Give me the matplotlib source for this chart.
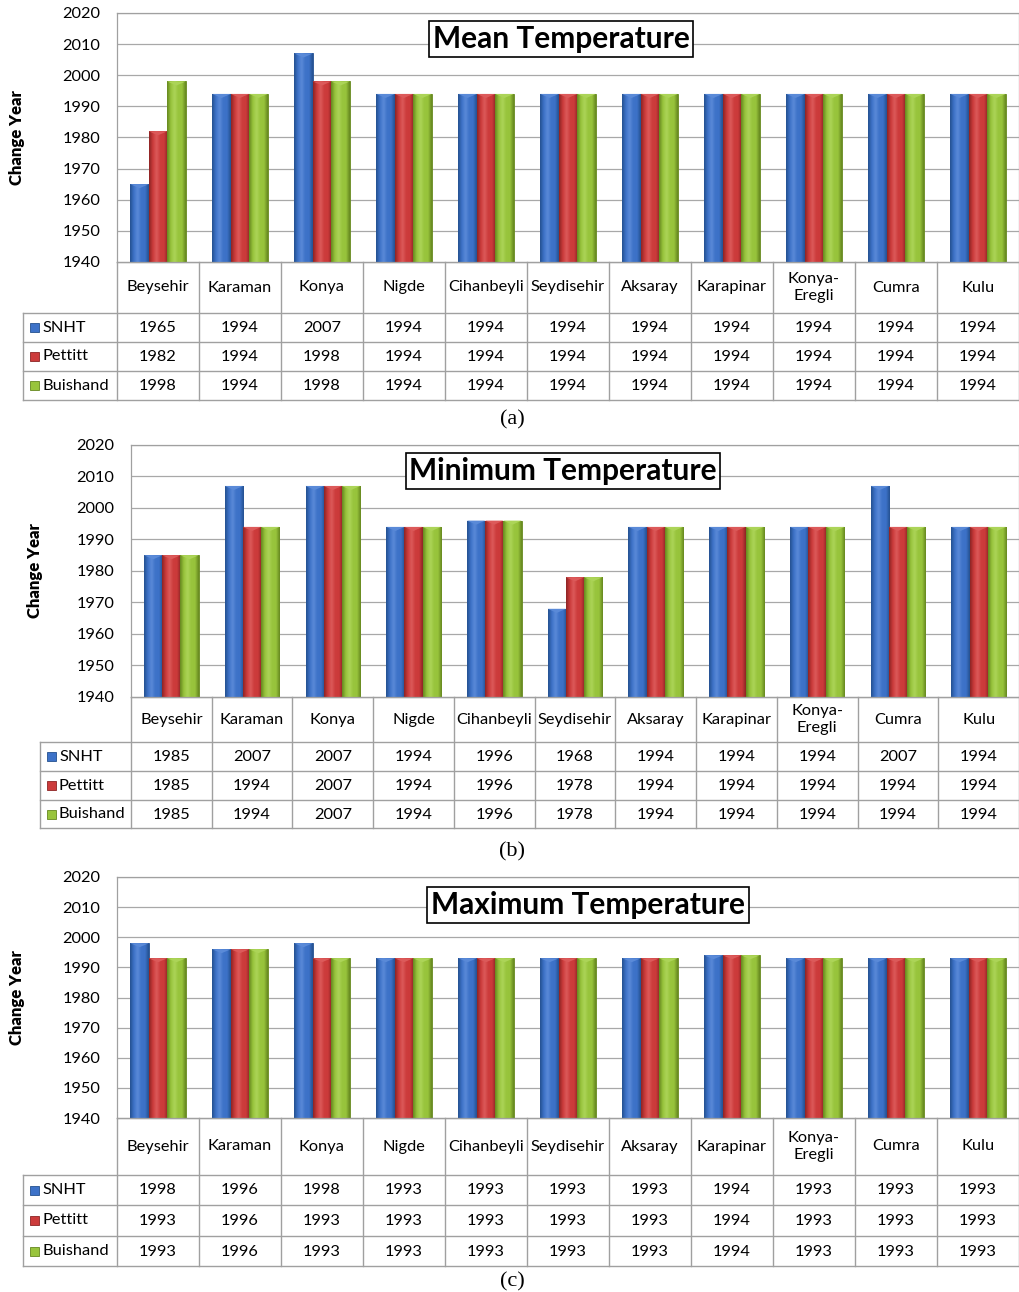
import numpy as np
import matplotlib
matplotlib.use("Agg")
import matplotlib.pyplot as plt
from matplotlib.colors import LinearSegmentedColormap

plt.rcParams['font.family'] = ['Lato', 'DejaVu Sans']

stations = ["Beysehir", "Karaman", "Konya", "Nigde", "Cihanbeyli", "Seydisehir",
            "Aksaray", "Karapinar", "Konya-\nEregli", "Cumra", "Kulu"]
series_names = ["SNHT", "Pettitt", "Buishand"]

mean_snht = [1965, 1994, 2007, 1994, 1994, 1994, 1994, 1994, 1994, 1994, 1994]
mean_pettitt = [1982, 1994, 1998, 1994, 1994, 1994, 1994, 1994, 1994, 1994, 1994]
mean_buishand = [1998, 1994, 1998, 1994, 1994, 1994, 1994, 1994, 1994, 1994, 1994]

min_snht = [1985, 2007, 2007, 1994, 1996, 1968, 1994, 1994, 1994, 2007, 1994]
min_pettitt = [1985, 1994, 2007, 1994, 1996, 1978, 1994, 1994, 1994, 1994, 1994]
min_buishand = [1985, 1994, 2007, 1994, 1996, 1978, 1994, 1994, 1994, 1994, 1994]

max_snht = [1998, 1996, 1998, 1993, 1993, 1993, 1993, 1994, 1993, 1993, 1993]
max_pettitt = [1993, 1996, 1993, 1993, 1993, 1993, 1993, 1994, 1993, 1993, 1993]
max_buishand = [1993, 1996, 1993, 1993, 1993, 1993, 1993, 1994, 1993, 1993, 1993]

yticks = [1940, 1950, 1960, 1970, 1980, 1990, 2000, 2010, 2020]
ymin, ymax = 1940, 2020

colors = ["#3d72c8", "#cc3b3b", "#98c43c"]
dark = ["#24508f", "#8c2424", "#65871f"]
light = ["#5a8ad8", "#dc5a5a", "#acd458"]

W, H = 1020, 1292
fig = plt.figure(figsize=(W / 100, H / 100), dpi=100)

panels = [
    dict(title="Mean Temperature", data=[mean_snht, mean_pettitt, mean_buishand],
         pl=117, pr=1019, pt=13, pb=262, tl=23, hb=313, rows=[342, 371, 400],
         lab="(a)", laby=420, ylx=17, tx=561, ty=39),
    dict(title="Minimum Temperature", data=[min_snht, min_pettitt, min_buishand],
         pl=131, pr=1019, pt=445, pb=697, tl=40, hb=742, rows=[771, 800, 828],
         lab="(b)", laby=852, ylx=35, tx=563, ty=471),
    dict(title="Maximum Temperature", data=[max_snht, max_pettitt, max_buishand],
         pl=117, pr=1019, pt=877, pb=1118, tl=23, hb=1175, rows=[1205, 1236, 1266],
         lab="(c)", laby=1282, ylx=17, tx=588, ty=905),
]

n = len(stations)
x = np.arange(n)
bw = 0.225
grid_col = "#a8a8a8"
line_col = "#a0a0a0"
fs = 11.8


def fig_rect(l, r, t, b):
    return [l / W, 1 - b / H, (r - l) / W, (b - t) / H]


for p in panels:
    ax = fig.add_axes(fig_rect(p["pl"], p["pr"], p["pt"], p["pb"]))
    ax.set_xlim(-0.5, n - 0.5)
    ax.set_ylim(ymin, ymax)
    ax.set_yticks(yticks)
    ax.set_yticklabels([str(t) for t in yticks], fontsize=fs)
    ax.set_xticks([])
    ax.tick_params(axis='y', length=0, pad=12)
    for y in yticks:
        ax.axhline(y, color=grid_col, lw=0.9, zorder=0)
    for s in ax.spines.values():
        s.set_color(line_col)
        s.set_linewidth(0.9)
    ax.set_ylabel("Change Year", fontsize=12, fontweight='heavy', labelpad=0)
    ax.yaxis.label.set_verticalalignment('center')
    ax.yaxis.set_label_coords((p["ylx"] - p["pl"]) / (p["pr"] - p["pl"]), 0.5)

    for k, vals in enumerate(p["data"]):
        heights = [v - ymin for v in vals]
        bars = ax.bar(x + (k - 1) * bw, heights, bw, bottom=ymin, color=colors[k],
                      edgecolor=dark[k], linewidth=0.6, zorder=2)
        cmap = LinearSegmentedColormap.from_list(
            "g", [dark[k], colors[k], light[k], colors[k], colors[k], dark[k]])
        grad = np.linspace(0, 1, 64).reshape(1, -1)
        for b in bars:
            bx, by, bwid, bh = b.get_x(), b.get_y(), b.get_width(), b.get_height()
            im = ax.imshow(grad, cmap=cmap, aspect='auto', extent=[bx, bx + bwid, by, by + bh],
                           zorder=2.5, interpolation='bicubic')
            im.set_clip_path(b)
            cap = 1.3
            ax.fill([bx, bx + bwid, bx + bwid / 2], [by + bh, by + bh, by + bh - cap],
                    color=light[k], zorder=3, lw=0)
    ax.set_xlim(-0.5, n - 0.5)
    ax.set_ylim(ymin, ymax)

    ax.text((p["tx"] - p["pl"]) / (p["pr"] - p["pl"]),
            1 - (p["ty"] - p["pt"]) / (p["pb"] - p["pt"]),
            p["title"], transform=ax.transAxes, ha='center', va='center',
            fontsize=21.5, fontweight='bold', zorder=5,
            bbox=dict(boxstyle='square,pad=0.12', fc='white', ec='black', lw=1.2))

    # table
    catw = (p["pr"] - p["pl"]) / n
    tax = fig.add_axes(fig_rect(p["tl"], p["pr"], p["pb"], p["rows"][-1]))
    x0 = -0.5 - (p["pl"] - p["tl"]) / catw
    tax.set_xlim(x0, n - 0.5)
    tax.set_ylim(p["rows"][-1], p["pb"])
    tax.axis('off')
    rb = [p["hb"]] + p["rows"]
    tax.plot([-0.5, n - 0.5], [p["pb"], p["pb"]], color=line_col, lw=1)
    for yb in rb:
        tax.plot([x0, n - 0.5], [yb, yb], color=line_col, lw=1, clip_on=False)
    tax.plot([x0, x0], [p["hb"], rb[-1]], color=line_col, lw=1, clip_on=False)
    for i in range(n + 1):
        tax.plot([i - 0.5, i - 0.5], [p["pb"], rb[-1]], color=line_col, lw=1, clip_on=False)
    for i, s in enumerate(stations):
        tax.text(i, (p["pb"] + p["hb"]) / 2, s, ha='center', va='center', fontsize=fs,
                 linespacing=1.25)
    for k, vals in enumerate(p["data"]):
        yc = (rb[k] + rb[k + 1]) / 2
        for i, v in enumerate(vals):
            tax.text(i, yc + 0.5, str(v), ha='center', va='center', fontsize=fs)
        kx = x0 + 7 / catw
        ks = 9 / catw
        tax.add_patch(plt.Rectangle((kx, yc - 4.5), ks, 9, fc=colors[k], ec=dark[k], lw=0.6))
        tax.text(kx + ks + 3 / catw, yc, series_names[k], ha='left', va='center', fontsize=fs)

    fig.text(512 / W, 1 - p["laby"] / H, p["lab"], ha='center', va='center',
             fontsize=16, family=['Liberation Serif'])

fig.savefig("out.png", dpi=100)
